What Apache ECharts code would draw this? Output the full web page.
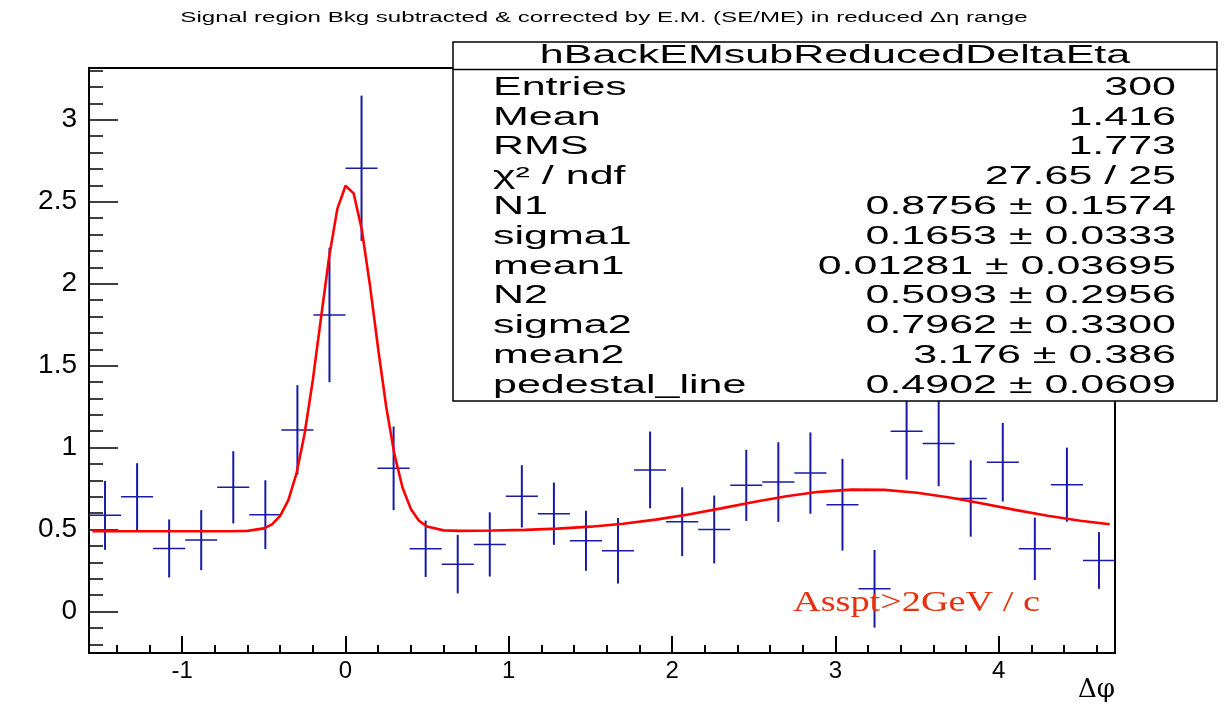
<!DOCTYPE html>
<html><head><meta charset="utf-8">
<script src="https://cdn.jsdelivr.net/npm/echarts@6/dist/echarts.min.js"></script>
<style>html,body{margin:0;padding:0;background:#fff}#c{width:1231px;height:705px}</style>
</head><body><div id="c"></div><script>
// histogram binning
const binLow = -Math.PI / 2, binHigh = 3 * Math.PI / 2, nBins = 32;
// bin contents and errors
const values = [0.587, 0.700, 0.385, 0.436, 0.758, 0.591, 1.108, 1.809, 2.704, 0.874, 0.383, 0.289, 0.410, 0.703, 0.597, 0.432,
                0.371, 0.864, 0.548, 0.501, 0.770, 0.790, 0.845, 0.652, 0.139, 1.100, 1.025, 0.690, 0.911, 0.383, 0.774, 0.312];
const errors = [0.210, 0.205, 0.177, 0.183, 0.220, 0.210, 0.273, 0.410, 0.443, 0.255, 0.172, 0.178, 0.196, 0.190, 0.190, 0.183,
                0.200, 0.234, 0.210, 0.207, 0.217, 0.243, 0.248, 0.280, 0.237, 0.295, 0.260, 0.233, 0.240, 0.190, 0.226, 0.173];
// fit curve samples
const curveX = [-1.55, -1.2, -0.9, -0.7, -0.6, -0.5, -0.45, -0.4, -0.35, -0.3, -0.25, -0.2, -0.15, -0.1, -0.05, 0, 0.05, 0.1, 0.15,
                0.2, 0.25, 0.3, 0.35, 0.4, 0.45, 0.5, 0.6, 0.7, 0.9, 1.1, 1.3, 1.5, 1.7, 1.9, 2.1, 2.3, 2.5, 2.7, 2.9, 3.1, 3.3,
                3.5, 3.7, 3.9, 4.1, 4.3, 4.5, 4.68];
const curveY = [0.4902, 0.4902, 0.4902, 0.4904, 0.4924, 0.5074, 0.5322, 0.5837, 0.6803, 0.8429, 1.0874, 1.4129, 1.7913, 2.1645,
                2.4563, 2.5972, 2.5507, 2.3290, 1.9878, 1.6032, 1.2450, 0.9575, 0.7541, 0.6264, 0.5545, 0.5186, 0.4954, 0.4926,
                0.4945, 0.4987, 0.5061, 0.5180, 0.5360, 0.5609, 0.5926, 0.6295, 0.6682, 0.7036, 0.7305, 0.7442, 0.7423, 0.7251,
                0.6957, 0.6590, 0.6203, 0.5844, 0.5542, 0.5331];
// axis ticks
const xMajorTicks = [-1, 0, 1, 2, 3, 4];
const xMinorTicks = [-1.4, -1.2, -0.8, -0.6, -0.4, -0.2, 0.2, 0.4, 0.6, 0.8, 1.2, 1.4, 1.6, 1.8, 2.2, 2.4, 2.6, 2.8,
                     3.2, 3.4, 3.6, 3.8, 4.2, 4.4, 4.6];
const yMajorTicks = [0, 0.5, 1, 1.5, 2, 2.5, 3];
const yMinorTicks = [-0.2, -0.1, 0.1, 0.2, 0.3, 0.4, 0.6, 0.7, 0.8, 0.9, 1.1, 1.2, 1.3, 1.4, 1.6, 1.7, 1.8, 1.9,
                     2.1, 2.2, 2.3, 2.4, 2.6, 2.7, 2.8, 2.9, 3.1, 3.2, 3.3];
const yMin = -0.2525, yMax = 3.3155;
// texts
const chartTitle = 'Signal region Bkg subtracted & corrected by E.M. (SE/ME) in reduced \u0394\u03b7 range';
const statTitle = 'hBackEMsubReducedDeltaEta';
const statLabels = ['Entries', 'Mean', 'RMS', '\u03c7\u00b2 / ndf', 'N1', 'sigma1', 'mean1', 'N2', 'sigma2', 'mean2', 'pedestal_line'];
const statValues = ['300', '1.416', '1.773', '27.65 / 25', '0.8756 \u00b1 0.1574', '0.1653 \u00b1 0.0333', '0.01281 \u00b1 0.03695',
                    '0.5093 \u00b1 0.2956', '0.7962 \u00b1 0.3300', '3.176 \u00b1 0.386', '0.4902 \u00b1 0.0609'];
const annotation = 'Asspt>2GeV / c';
const xTitle = '\u0394\u03c6';

const BLUE = '#1a1aa6', RED = '#ff0000';
const binW = (binHigh - binLow) / nBins;
const histData = values.map((v, i) => [binLow + (i + 0.5) * binW, v, errors[i]]);
const curveData = curveX.map((x, i) => [x, curveY[i]]);

const FONT = '"Liberation Sans", Arial, Helvetica, sans-serif';
const SX = 1.72;
const graphics = [];
graphics.push({type: 'text', x: 604, y: 18, scaleX: SX, z: 101,
  style: {text: chartTitle, font: '14px ' + FONT, fill: '#000', textAlign: 'center', textVerticalAlign: 'middle'}});
graphics.push({type: 'rect', z: 100, shape: {x: 453, y: 42, width: 764, height: 359},
  style: {fill: '#fff', stroke: '#000', lineWidth: 1.5}});
graphics.push({type: 'line', z: 101, shape: {x1: 453, y1: 69.5, x2: 1217, y2: 69.5},
  style: {stroke: '#000', lineWidth: 1.5}});
graphics.push({type: 'text', x: 835, y: 56, scaleX: SX, z: 102,
  style: {text: statTitle, font: '25px ' + FONT, fill: '#000', textAlign: 'center', textVerticalAlign: 'middle'}});
statLabels.forEach((t, k) => {
  const yy = 88 + 29.8 * k;
  graphics.push({type: 'text', x: 493, y: yy, scaleX: SX, z: 102,
    style: {text: t, font: '25px ' + FONT, fill: '#000', textAlign: 'left', textVerticalAlign: 'middle'}});
  graphics.push({type: 'text', x: 1176, y: yy, scaleX: SX, z: 102,
    style: {text: statValues[k], font: '25px ' + FONT, fill: '#000', textAlign: 'right', textVerticalAlign: 'middle'}});
});
graphics.push({type: 'text', x: 793, y: 603.5, scaleX: 1.32, z: 50,
  style: {text: annotation, font: '29px "Liberation Serif", "Times New Roman", serif', fill: '#e8300e',
          textAlign: 'left', textVerticalAlign: 'middle'}});

const chart = echarts.init(document.getElementById('c'));
chart.setOption({
  animation: false,
  backgroundColor: '#fff',
  grid: {left: 89, right: 116, top: 68, bottom: 52, show: true, borderColor: '#000', borderWidth: 2, backgroundColor: 'transparent'},
  xAxis: [
    {type: 'value', min: binLow, max: binHigh, position: 'bottom',
     axisLine: {show: false, onZero: false}, splitLine: {show: false},
     axisTick: {show: true, inside: true, length: 17, customValues: xMajorTicks, lineStyle: {color: '#000', width: 2}},
     axisLabel: {show: true, customValues: xMajorTicks, fontSize: 24, color: '#000', fontFamily: FONT, margin: 6},
     name: xTitle, nameLocation: 'end', nameGap: 0,
     nameTextStyle: {fontSize: 26, color: '#000', fontFamily: '"DejaVu Serif", "Liberation Serif", serif', align: 'right', verticalAlign: 'top', padding: [24, 0, 0, 0]}},
    {type: 'value', min: binLow, max: binHigh, position: 'bottom',
     axisLine: {show: false, onZero: false}, splitLine: {show: false}, axisLabel: {show: false},
     axisTick: {show: true, inside: true, length: 8, customValues: xMinorTicks, lineStyle: {color: '#000', width: 2}}}
  ],
  yAxis: [
    {type: 'value', min: yMin, max: yMax, position: 'left',
     axisLine: {show: false, onZero: false}, splitLine: {show: false},
     axisTick: {show: true, inside: true, length: 29, customValues: yMajorTicks, lineStyle: {color: '#000', width: 1.5}},
     axisLabel: {show: true, customValues: yMajorTicks, fontSize: 28, color: '#000', fontFamily: FONT, margin: 12}},
    {type: 'value', min: yMin, max: yMax, position: 'left',
     axisLine: {show: false, onZero: false}, splitLine: {show: false}, axisLabel: {show: false},
     axisTick: {show: true, inside: true, length: 14, customValues: yMinorTicks, lineStyle: {color: '#000', width: 1.5}}}
  ],
  series: [
    {type: 'custom', xAxisIndex: 0, yAxisIndex: 0, data: histData, clip: true, z: 2,
     encode: {x: 0, y: 1},
     renderItem: function (params, api) {
       const x = api.value(0), y = api.value(1), e = api.value(2);
       const c = api.coord([x, y]);
       const t = api.coord([x, y + e]);
       const b = api.coord([x, y - e]);
       const l = api.coord([x - binW / 2, y]);
       const r = api.coord([x + binW / 2, y]);
       return {type: 'group', children: [
         {type: 'line', shape: {x1: c[0], y1: t[1], x2: c[0], y2: b[1]}, style: {stroke: BLUE, lineWidth: 2}},
         {type: 'line', shape: {x1: l[0], y1: c[1], x2: r[0], y2: c[1]}, style: {stroke: BLUE, lineWidth: 1.5}}
       ]};
     }},
    {type: 'line', xAxisIndex: 0, yAxisIndex: 0, data: curveData, symbol: 'none', smooth: false, z: 3,
     lineStyle: {color: RED, width: 2.6}}
  ],
  graphic: graphics
});
</script></body></html>
